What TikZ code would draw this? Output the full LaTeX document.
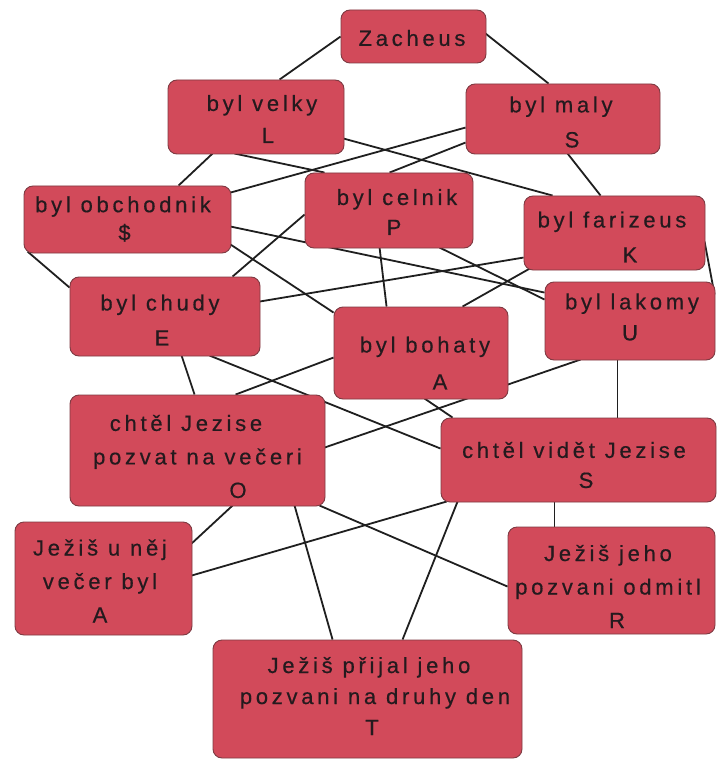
\documentclass[tikz,border=0pt]{standalone}
\usepackage{fontspec}
\newfontfamily\boxfont{Liberation Sans}[LetterSpace=17,FakeBold=0.5]
\usetikzlibrary{backgrounds}
\definecolor{boxfill}{HTML}{D24A5A}
\definecolor{boxline}{HTML}{7E3A42}
\definecolor{txtcol}{HTML}{241A1E}
\begin{document}
\begin{tikzpicture}[x=1pt,y=-1pt,
  box/.style={draw=boxline, line width=0.9pt, fill=boxfill, rounded corners=9pt, inner sep=0pt},
  txt/.style={align=center, text=txtcol, inner sep=0pt, font=\boxfont\fontsize{22}{#1}\selectfont},
  txt/.default=33.5,
  conn/.style={line width=1.8pt, black!88}]
\useasboundingbox (0,0) rectangle (718,759);
% boxes
\node[box, minimum width=145pt, minimum height=53pt] (Z) at (413.5,36.5) {};
\node[box, minimum width=176pt, minimum height=74pt] (V) at (256,117) {};
\node[box, minimum width=194pt, minimum height=70pt] (M) at (563,119) {};
\node[box, minimum width=207pt, minimum height=67pt] (O) at (127.5,219.5) {};
\node[box, minimum width=168pt, minimum height=75pt] (C) at (389,210.5) {};
\node[box, minimum width=181pt, minimum height=74pt] (F) at (614.5,233) {};
\node[box, minimum width=190pt, minimum height=79pt] (CH) at (165,316.5) {};
\node[box, minimum width=174pt, minimum height=92pt] (B) at (421,353) {};
\node[box, minimum width=170pt, minimum height=78pt] (LK) at (630,321) {};
\node[box, minimum width=255pt, minimum height=111pt] (PV) at (197.5,450.5) {};
\node[box, minimum width=275pt, minimum height=84pt] (VI) at (578.5,460) {};
\node[box, minimum width=177pt, minimum height=113pt] (UN) at (103.5,578.5) {};
\node[box, minimum width=207pt, minimum height=107pt] (OD) at (611.5,580.5) {};
\node[box, minimum width=309pt, minimum height=118pt] (PR) at (367.5,699) {};
% texts
\node[txt] (Zt) at (412,38) {Zacheus};
\node[txt=32] (Vt) at (262,119) {byl velky\\\hspace*{12pt}L};
\node[txt=35] (Mt) at (561,122) {byl maly\\\hspace*{22pt}S};
\node[txt=28] (Ot) at (123,219) {byl obchodnik\\\hspace*{3pt}\$};
\node[txt=30] (Ct) at (397,212) {byl celnik\\\hspace*{-6pt}P};
\node[txt=35] (Ft) at (612,237) {byl farizeus\\\hspace*{36pt}K};
\node[txt=35] (CHt) at (160,320) {byl chudy\\\hspace*{4pt}E};
\node[txt=37] (Bt) at (425,363) {byl bohaty\\\hspace*{30pt}A};
\node[txt=31] (LKt) at (632,317) {byl lakomy\\\hspace*{-4pt}U};
\node[txt] (PVt) at (197.5,456.5) {\hspace*{-23pt}chtěl Jezise\\pozvat na večeri\\\hspace*{81pt}O};
\node[txt=30] (VIt) at (574,465) {chtěl vidět Jezise\\\hspace*{24pt}S};
\node[txt] (UNt) at (100,581) {Ježiš u něj\\večer byl\\A};
\node[txt] (ODt) at (608,586.5) {Ježiš jeho\\pozvani odmitl\\\hspace*{18pt}R};
\node[txt=31] (PRt) at (375,696) {\hspace*{-12pt}Ježiš přijal jeho\\pozvani na druhy den\\\hspace*{-6pt}T};
% connectors
\begin{scope}[on background layer]
\fill[white] (0,0) rectangle (718,759);
\draw[conn] ([shift={(112,0)}]V.north west) -- ([shift={(0,27)}]Z.north west);
\draw[conn] ([shift={(145,24)}]Z.north west) -- ([shift={(83,0)}]M.north west);
\draw[conn] ([shift={(45,74)}]V.north west) -- ([shift={(155,0)}]O.north west);
\draw[conn] ([shift={(67,74)}]V.north west) -- ([shift={(20,0)}]C.north west);
\draw[conn] ([shift={(176,59)}]V.north west) -- ([shift={(29,0)}]F.north west);
\draw[conn] ([shift={(0,44)}]M.north west) -- ([shift={(207,7)}]O.north west);
\draw[conn] ([shift={(0,59)}]M.north west) -- ([shift={(85,0)}]C.north west);
\draw[conn] ([shift={(102,70)}]M.north west) -- ([shift={(77,0)}]F.north west);
\draw[conn] ([shift={(4,66)}]O.north west) -- ([shift={(0,11)}]CH.north west);
\draw[conn] ([shift={(207,41)}]O.north west) -- ([shift={(0,11)}]LK.north west);
\draw[conn] ([shift={(207,59)}]O.north west) -- ([shift={(0,6)}]B.north west);
\draw[conn] ([shift={(0,42)}]C.north west) -- ([shift={(163,0)}]CH.north west);
\draw[conn] ([shift={(75,75)}]C.north west) -- ([shift={(53,0)}]B.north west);
\draw[conn] ([shift={(135,75)}]C.north west) -- ([shift={(0,18)}]LK.north west);
\draw[conn] ([shift={(190,25)}]CH.north west) -- ([shift={(0,62)}]F.north west);
\draw[conn] ([shift={(129,0)}]B.north west) -- ([shift={(8,72)}]F.north west);
\draw[conn] ([shift={(181,46)}]F.north west) -- ([shift={(170,13)}]LK.north west);
\draw[conn] ([shift={(112,79)}]CH.north west) -- ([shift={(125,0)}]PV.north west);
\draw[conn] ([shift={(140,79)}]CH.north west) -- ([shift={(0,31)}]VI.north west);
\draw[conn] ([shift={(0,51)}]B.north west) -- ([shift={(166,0)}]PV.north west);
\draw[conn] ([shift={(255,53)}]PV.north west) -- ([shift={(36,78)}]LK.north west);
\draw[conn] ([shift={(91,92)}]B.north west) -- ([shift={(12,0)}]VI.north west);
\draw[conn] ([shift={(73,78)}]LK.north west) -- ([shift={(177,0)}]VI.north west);
\draw[conn] ([shift={(163,111)}]PV.north west) -- ([shift={(177,22)}]UN.north west);
\draw[conn] ([shift={(177,54)}]UN.north west) -- ([shift={(6,84)}]VI.north west);
\draw[conn] ([shift={(225,111)}]PV.north west) -- ([shift={(120,0)}]PR.north west);
\draw[conn] ([shift={(250,111)}]PV.north west) -- ([shift={(0,60)}]OD.north west);
\draw[conn] ([shift={(17,84)}]VI.north west) -- ([shift={(190,0)}]PR.north west);
\draw[conn] ([shift={(114,84)}]VI.north west) -- ([shift={(47,0)}]OD.north west);
\end{scope}
\end{tikzpicture}
\end{document}
